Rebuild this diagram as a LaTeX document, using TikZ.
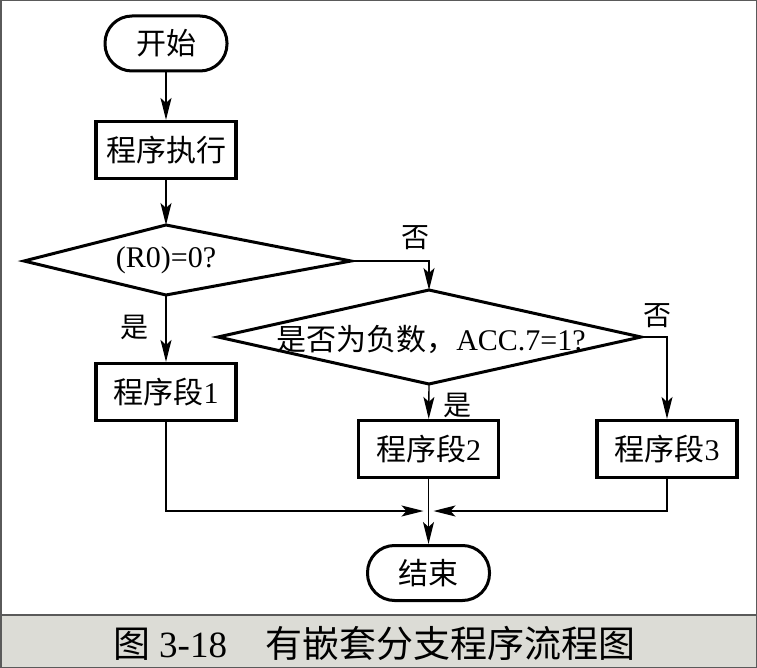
\documentclass[tikz,border=0pt]{standalone}
\usepackage{fontspec}
\setmainfont{Liberation Serif}
\newfontfamily\cjk{Noto Sans CJK SC}
\usetikzlibrary{arrows.meta,positioning}
\definecolor{capgray}{RGB}{220,220,214}
\definecolor{framegray}{RGB}{90,90,90}

\tikzset{
  terminal/.style={draw, line width=3pt, rounded corners=27pt,
    minimum width=122pt, minimum height=55pt, inner sep=0pt},
  procbox/.style={draw, line width=3.2pt, minimum width=140pt,
    minimum height=57pt, inner sep=0pt},
  testline/.style={line width=3pt},
  flow/.style={line width=1.4pt, -{Stealth[length=22pt,width=11pt,inset=5pt]}},
  tag/.style={font=\cjk\fontsize{28}{28}\selectfont, inner sep=0pt},
}

\begin{document}
\begin{tikzpicture}[x=1pt, y=-1pt, font=\fontsize{30}{30}\selectfont]
    \useasboundingbox (0,0) rectangle (757,668);
    % -------------------------
    % Frame and caption band
    % -------------------------
    \fill[capgray] (0,615) rectangle (757,668);
    \draw[framegray, line width=1.5pt] (0,615) -- (757,615);
    \draw[framegray, line width=1.5pt] (0.75,0.75) rectangle (756.25,667.25);
    \node[font=\cjk\fontsize{37}{37}\selectfont, anchor=west, inner sep=0pt] (caption) at (113,643)
        {图\hspace{9pt}{\rmfamily 3-18}\hspace{38pt}有嵌套分支程序流程图};

    % -------------------------
    % Start and first step
    % -------------------------
    \node[terminal] (start) at (166,43.5) {\cjk 开始};
    \node[procbox] (exec) at (166,150) {\cjk 程序执行};

    % -------------------------
    % First test (R0)=0?
    % -------------------------
    \coordinate (t1n) at (166,225);
    \coordinate (t1e) at (351,261);
    \coordinate (t1s) at (166,295);
    \coordinate (t1w) at (24,261);
    \draw[testline] (t1n) -- (t1e) -- (t1s) -- (t1w) -- cycle;
    \node (t1) at (166,260) {(R0)=0?};

    % -------------------------
    % Second test ACC.7=1?
    % -------------------------
    \coordinate (t2n) at (429,290);
    \coordinate (t2e) at (641,337);
    \coordinate (t2s) at (429,384);
    \coordinate (t2w) at (218,337);
    \draw[testline] (t2n) -- (t2e) -- (t2s) -- (t2w) -- cycle;
    \node (t2) at (431,339) {{\cjk 是否为负数，}ACC.7=1?};

    % -------------------------
    % Program segments and end
    % -------------------------
    \node[procbox] (seg1) at (166,392) {{\cjk 程序段}1};
    \node[procbox] (seg2) at (428.5,449) {{\cjk 程序段}2};
    \node[procbox] (seg3) at (667,449) {{\cjk 程序段}3};
    \node[terminal] (stop) at (428.5,573) {\cjk 结束};
    \coordinate (join) at (428.5,511);

    % Labels
    \node[tag] (no1) at (415,238) {否};
    \node[tag] (yes1) at (134,327) {是};
    \node[tag] (no2) at (657,316) {否};
    \node[tag] (yes2) at (457,405) {是};

    % Connectors
    \draw[flow] (start) -- (exec);
    \draw[flow] (exec) -- (t1n);
    \draw[flow] (t1s) -- (seg1);
    \draw[flow] (t1e) -| (t2n);
    \draw[flow] (t2s) -- (seg2);
    \draw[flow] (t2e) -| (seg3);
    \draw[flow, shorten >=5pt] (seg1) |- (join);
    \draw[flow, shorten >=5pt] (seg3) |- (join);
    \draw[flow] (seg2) -- (stop);
\end{tikzpicture}
\end{document}
